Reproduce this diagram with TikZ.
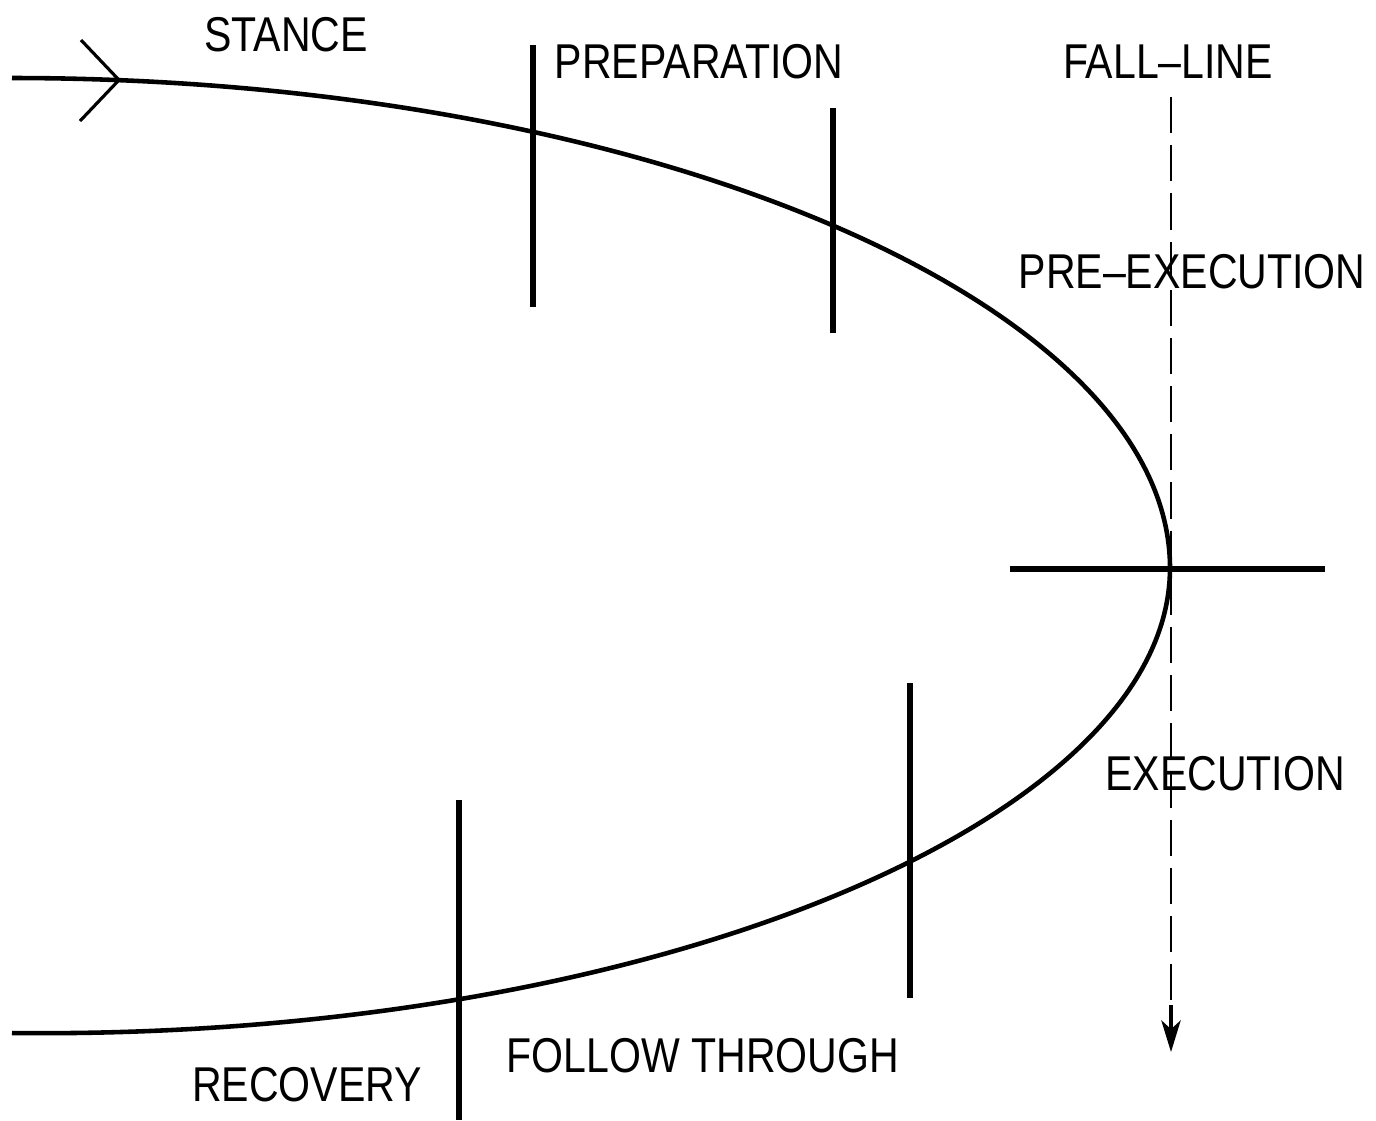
\documentclass[tikz,border=0pt]{standalone}
\usepackage{fontspec}
\setmainfont{Liberation Sans}
\usetikzlibrary{arrows.meta}
\newcommand{\lbltext}[1]{\scalebox{0.84}[1]{#1}}
\tikzset{
  lbl/.style={inner sep=0pt, anchor=center, font=\fontsize{13.9}{16}\selectfont},
  curveline/.style={line width=1.3pt},
  mark line/.style={line width=1.6pt},
  fallline/.style={line width=0.75pt, dash pattern=on 10.3pt off 3.4pt},
}
\begin{document}
\begin{tikzpicture}[x=0.01cm, y=-0.01cm]
\useasboundingbox (0,0) rectangle (1376,1120);
% curve end points
\coordinate (start) at (12,78);
\coordinate (vertex) at (1170,568);
\coordinate (finish) at (12,1033);
% main curve
\draw[curveline] (start) .. controls (650,78) and (1170,305) .. (vertex)
                 .. controls (1170,820) and (650,1040) .. (finish);
% entry chevron
\coordinate (chevtip) at (119,80);
\coordinate (chevA) at (81,40);
\coordinate (chevB) at (80,121);
\draw[line width=0.9pt] (chevA) -- (chevtip) -- (chevB);
% phase markers
\coordinate (m1a) at (533,45);  \coordinate (m1b) at (533,307);
\coordinate (m2a) at (833,108); \coordinate (m2b) at (833,333);
\coordinate (m3a) at (910,683); \coordinate (m3b) at (910,998);
\coordinate (m4a) at (459,800); \coordinate (m4b) at (459,1120);
\coordinate (h1) at (1010,569); \coordinate (h2) at (1325,569);
\draw[mark line] (m1a) -- (m1b);
\draw[mark line] (m2a) -- (m2b);
\draw[mark line] (m3a) -- (m3b);
\draw[mark line] (m4a) -- (m4b);
\draw[mark line] (h1) -- (h2);
% fall line
\coordinate (f1) at (1171,97);
\coordinate (f2) at (1171,1052);
\coordinate (f3) at (1171,1005);
\draw[fallline] (f1) -- (f3);
\draw[line width=0.9pt, -{Stealth[length=9pt,width=5.5pt,inset=2.5pt]}] (f3) -- (f2);
% labels
\node[lbl] (stance) at (286,35) {\lbltext{STANCE}};
\node[lbl] (prep) at (699,62) {\lbltext{PREPARATION}};
\node[lbl] (fall) at (1168,62) {\lbltext{FALL–LINE}};
\node[lbl] (preexec) at (1192,272) {\lbltext{PRE–EXECUTION}};
\node[lbl] (exec) at (1225,774) {\lbltext{EXECUTION}};
\node[lbl] (follow) at (703,1056) {\lbltext{FOLLOW THROUGH}};
\node[lbl] (recovery) at (307,1085) {\lbltext{RECOVERY}};
\end{tikzpicture}
\end{document}
